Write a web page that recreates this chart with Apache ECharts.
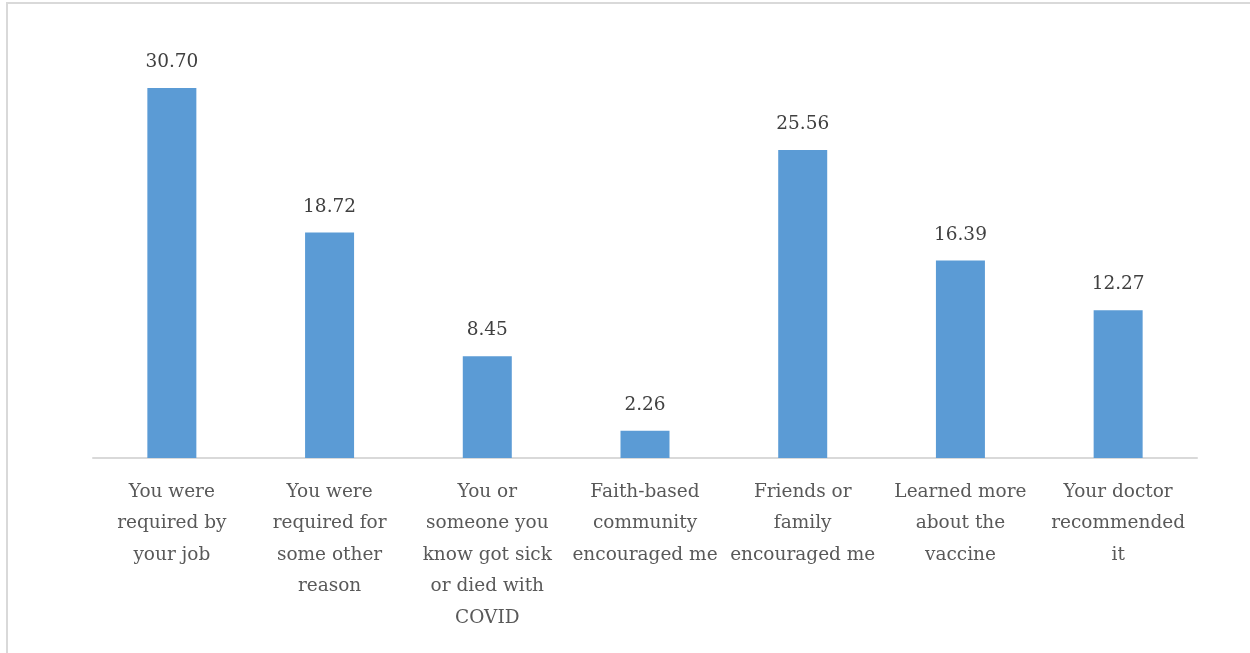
<!DOCTYPE html>
<html>
<head>
<meta charset="utf-8">
<script src="https://cdn.jsdelivr.net/npm/echarts@6/dist/echarts.min.js"></script>
<style>
html,body{margin:0;padding:0;background:#fff;}
#chart{width:1250px;height:653px;}
</style>
</head>
<body>
<div id="chart"></div>
<script>
const categories = [
  "You were required by your job",
  "You were required for some other reason",
  "You or someone you know got sick or died with COVID",
  "Faith-based community encouraged me",
  "Friends or family encouraged me",
  "Learned more about the vaccine",
  "Your doctor recommended it"
];
const tickLabels = [
  "You were\nrequired by\nyour job",
  "You were\nrequired for\nsome other\nreason",
  "You or\nsomeone you\nknow got sick\nor died with\nCOVID",
  "Faith-based\ncommunity\nencouraged me",
  "Friends or\nfamily\nencouraged me",
  "Learned more\nabout the\nvaccine",
  "Your doctor\nrecommended\nit"
];
const values = [30.70, 18.72, 8.45, 2.26, 25.56, 16.39, 12.27];

const chart = echarts.init(document.getElementById('chart'));
const font = '"DejaVu Serif", "Liberation Serif", serif';
chart.setOption({
  animation: false,
  backgroundColor: '#fff',
  graphic: [{
    type: 'rect',
    shape: {x: 7, y: 3, width: 1260, height: 670},
    style: {fill: 'none', stroke: '#d9d9d9', lineWidth: 2},
    silent: true
  }],
  grid: {left: 93, right: 53, top: 36.2, bottom: 195, containLabel: false},
  xAxis: {
    type: 'category',
    data: categories,
    axisLine: {show: true, lineStyle: {color: '#d9d9d9', width: 2}},
    axisTick: {show: false},
    axisLabel: {
      interval: 0,
      margin: 18,
      color: '#595959',
      fontFamily: font,
      fontSize: 18.5,
      lineHeight: 31.5,
      formatter: (v, i) => tickLabels[i]
    }
  },
  yAxis: {
    type: 'value',
    min: 0, max: 35,
    show: false,
    splitLine: {show: false}
  },
  series: [{
    type: 'bar',
    data: values,
    barWidth: 49,
    itemStyle: {color: '#5b9bd5'},
    label: {
      show: true,
      position: 'top',
      distance: 16,
      color: '#404040',
      fontFamily: font,
      fontSize: 18.5,
      formatter: p => p.value.toFixed(2)
    }
  }]
});
</script>
</body>
</html>
